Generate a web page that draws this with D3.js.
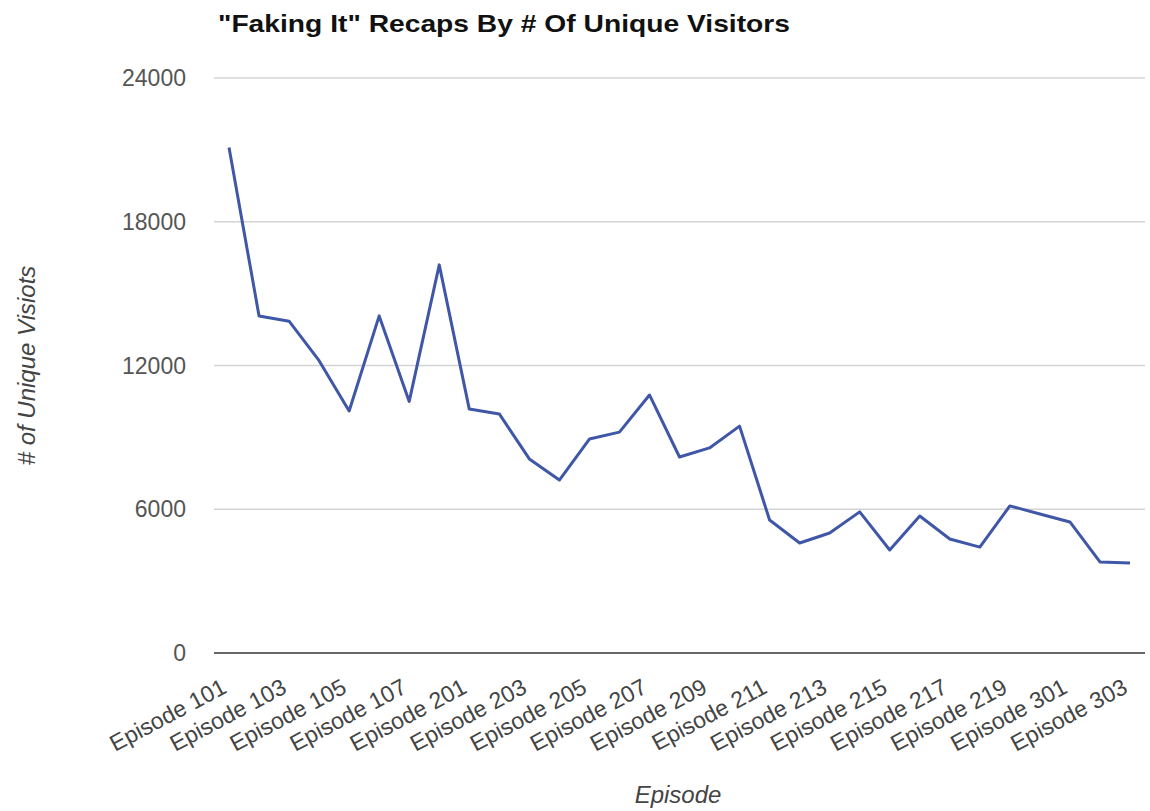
<!DOCTYPE html>
<html>
<head>
<meta charset="utf-8">
<script src="https://cdn.jsdelivr.net/npm/d3@7"></script>
<style>
  body { margin: 0; background: #fff; }
  text { font-family: "Liberation Sans", Arial, sans-serif; }
</style>
</head>
<body>
<script>
// episodes, season by season
const episodes = [
  "Episode 101", "Episode 102", "Episode 103", "Episode 104", "Episode 105", "Episode 106", "Episode 107", "Episode 108",
  "Episode 201", "Episode 202", "Episode 203", "Episode 204", "Episode 205", "Episode 206", "Episode 207", "Episode 208",
  "Episode 209", "Episode 210", "Episode 211", "Episode 212", "Episode 213", "Episode 214", "Episode 215", "Episode 216",
  "Episode 217", "Episode 218", "Episode 219", "Episode 220",
  "Episode 301", "Episode 302", "Episode 303"
];
const visitors = [
  21100, 14070, 13850, 12200, 10100, 14070, 10500, 16200,
  10180, 9980, 8100, 7220, 8930, 9220, 10770, 8180,
  8560, 9470, 5550, 4590, 5010, 5890, 4300, 5720,
  4760, 4420, 6140, 5800,
  5470, 3800, 3760
];
const yTicks = [0, 6000, 12000, 18000, 24000];

const width = 1150, height = 811;
const plotLeft = 214, plotRight = 1145, plotTop = 78, plotBottom = 653;

const svg = d3.select("body").append("svg")
    .attr("width", width)
    .attr("height", height);

const x = d3.scalePoint().domain(episodes).range([plotLeft, plotRight]).padding(0.5);
const y = d3.scaleLinear().domain([0, 24000]).range([plotBottom, plotTop]);

// gridlines
svg.append("g")
    .selectAll("line")
    .data(yTicks.slice(1))
    .join("line")
    .attr("x1", plotLeft).attr("x2", plotRight)
    .attr("y1", d => y(d)).attr("y2", d => y(d))
    .attr("stroke", "#d4d4d4")
    .attr("stroke-width", 1.5);

// baseline
svg.append("line")
    .attr("x1", plotLeft).attr("x2", plotRight)
    .attr("y1", y(0)).attr("y2", y(0))
    .attr("stroke", "#333")
    .attr("stroke-width", 1.5);

// y tick labels
svg.append("g")
    .selectAll("text")
    .data(yTicks)
    .join("text")
    .attr("x", 186)
    .attr("y", d => y(d) + 8)
    .attr("text-anchor", "end")
    .style("font-size", "23px")
    .style("fill", "#555")
    .text(d => d);

// x tick labels, every other episode, rotated
svg.append("g")
    .selectAll("text")
    .data(episodes.filter((d, i) => i % 2 === 0))
    .join("text")
    .attr("transform", d => `translate(${x(d) - 1},${y(0) + 39}) rotate(-28)`)
    .attr("text-anchor", "end")
    .style("font-size", "23px")
    .style("fill", "#444")
    .text(d => d);

// line
const line = d3.line()
    .x((d, i) => x(episodes[i]))
    .y(d => y(d));

svg.append("path")
    .datum(visitors)
    .attr("d", line)
    .attr("fill", "none")
    .attr("stroke", "#3f57a6")
    .attr("stroke-width", 3)
    .attr("stroke-linejoin", "round");

// title
svg.append("text")
    .attr("x", 218)
    .attr("y", 32)
    .attr("textLength", 572)
    .attr("lengthAdjust", "spacingAndGlyphs")
    .style("font-size", "24px")
    .style("font-weight", "bold")
    .style("fill", "#111")
    .text("\"Faking It\" Recaps By # Of Unique Visitors");

// axis titles
svg.append("text")
    .attr("transform", `translate(35,${(plotTop + plotBottom) / 2}) rotate(-90)`)
    .attr("text-anchor", "middle")
    .style("font-size", "24px")
    .style("font-style", "italic")
    .style("fill", "#444")
    .text("# of Unique Visiots");

svg.append("text")
    .attr("x", 678)
    .attr("y", 803)
    .attr("text-anchor", "middle")
    .style("font-size", "24px")
    .style("font-style", "italic")
    .style("fill", "#444")
    .text("Episode");
</script>
</body>
</html>
